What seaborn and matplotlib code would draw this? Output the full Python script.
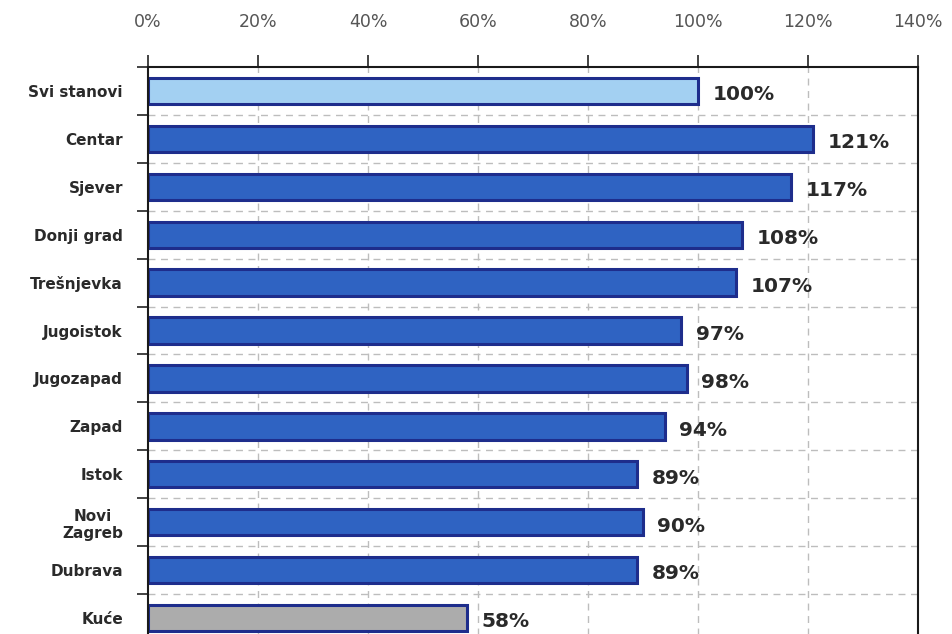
import matplotlib
matplotlib.use("Agg")
import matplotlib.pyplot as plt
import seaborn as sns
import pandas as pd

categories = ["Svi stanovi", "Centar", "Sjever", "Donji grad", "Trešnjevka",
              "Jugoistok", "Jugozapad", "Zapad", "Istok", "Novi\nZagreb",
              "Dubrava", "Kuće"]
values = [100, 121, 117, 108, 107, 97, 98, 94, 89, 90, 89, 58]
x_ticks = [0, 20, 40, 60, 80, 100, 120, 140]

fill_main = "#2f63c2"
fill_all = "#a3d0f2"
fill_house = "#acacac"
edge = "#1e2d8c"
bar_colors = [fill_all] + [fill_main] * 10 + [fill_house]

sns.set_theme(style="white")
plt.rcParams["font.family"] = ["DejaVu Sans"]

df = pd.DataFrame({"kat": categories, "val": values})

W, H = 953, 634
fig = plt.figure(figsize=(W / 100, H / 100), dpi=100)
left, right, top, bottom = 148, 918, 67, 642
ax = fig.add_axes([left / W, 1 - bottom / H, (right - left) / W, (bottom - top) / H])

sns.barplot(data=df, y="kat", x="val", hue="kat", palette=bar_colors,
            orient="h", width=0.55, legend=False, ax=ax, saturation=1)
for p in ax.patches:
    p.set_edgecolor(edge)
    p.set_linewidth(2.2)

ax.set_xlim(0, 140)
ax.set_ylim(len(categories) - 0.5, -0.5)
ax.set_xlabel("")
ax.set_ylabel("")

# top axis with percent labels
ax.xaxis.tick_top()
ax.set_xticks(x_ticks)
ax.set_xticklabels([f"{t}%" for t in x_ticks], fontsize=12.5, color="#555555")
ax.tick_params(axis="x", direction="out", length=9, width=1.2, color="#222222", pad=17)

# category labels sit at bar centres, tick marks at band boundaries
ax.set_yticks(range(len(categories)))
ax.set_yticklabels(categories, fontsize=11, fontweight="bold", color="#2a2a2a",
                   multialignment="center")
ax.tick_params(axis="y", which="major", length=0, pad=18)
boundaries = [i + 0.5 for i in range(-1, len(categories) - 1)]
ax.set_yticks(boundaries, minor=True)
ax.tick_params(axis="y", which="minor", direction="out", length=8, width=1.2,
               color="#222222", left=True)

# dashed grid
for b in boundaries[1:]:
    ax.axhline(b, color="#bdbdbd", linestyle=(0, (5, 4)), linewidth=1, zorder=0)
for t in x_ticks[1:-1]:
    ax.axvline(t, color="#bdbdbd", linestyle=(0, (5, 4)), linewidth=1, zorder=0)

for s in ["top", "left", "right"]:
    ax.spines[s].set_visible(True)
    ax.spines[s].set_color("#1a1a1a")
    ax.spines[s].set_linewidth(1.5)
ax.spines["bottom"].set_visible(False)

for i, v in enumerate(values):
    ax.text(v + 2.6, i + 0.08, f"{v}%", va="center", ha="left",
            fontsize=14.5, fontweight="bold", color="#2a2a2a")

fig.savefig("out.png", dpi=100)
